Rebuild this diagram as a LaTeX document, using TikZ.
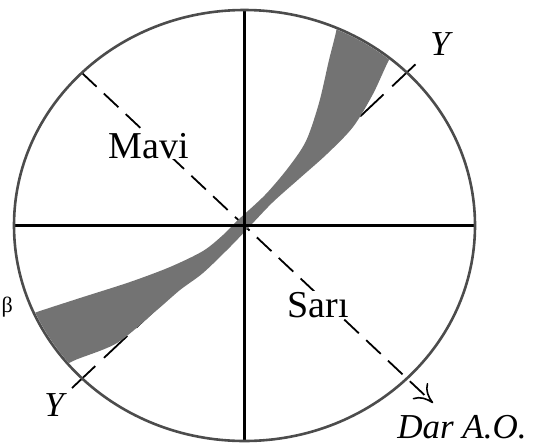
\documentclass[tikz,border=0pt]{standalone}
\usepackage{fontspec}
\setmainfont{Liberation Serif}
\usetikzlibrary{arrows.meta}
\begin{document}
\begin{tikzpicture}[x=1pt,y=-1pt,
  rim/.style={draw=black!70, line width=2.6pt},
  axis/.style={draw=black, line width=2.6pt},
  dline/.style={line width=1.8pt, dash pattern=on 20pt off 10pt},
  yline/.style={line width=1.8pt, dash pattern=on 32pt off 12pt},
  lbl/.style={font=\fontsize{38}{40}\selectfont, fill=white, inner sep=1pt, anchor=base},
  ilbl/.style={font=\fontsize{35}{40}\selectfont\itshape, inner sep=1pt, anchor=base},
  band/.style={fill=black!55}]
\useasboundingbox (0,0) rectangle (534,447);
\coordinate (O) at (244.5,225.5);
\coordinate (L) at (14,225.5);
\coordinate (R) at (475,225.5);
\coordinate (T) at (244.5,10);
\coordinate (B) at (244.5,441);
\coordinate (Y1) at (72,388);
\coordinate (Y2) at (419,61);
\coordinate (M1) at (82,73);
\coordinate (S2) at (433,403);
% dashed lines
\draw[yline] (Y1) -- (Y2);
\draw[dline, -{Computer Modern Rightarrow[length=18pt,width=22pt,line width=1.6pt]}] (M1) -- (S2);
% shaded band
\begin{scope}
  \clip (O) ellipse [x radius=229pt, y radius=214pt];
  \fill[band] plot[smooth] coordinates {(22,318) (37,312) (80,298) (130,282) (170,267) (203,251) (223,235) (238,220) (265,195) (288,168) (306,141) (319,103) (329,60) (336,32) (338,15)}
    -- plot[smooth] coordinates {(405,38) (390,58) (373,94) (353,127) (327,154) (300,178) (273,202) (251,225) (230,247) (203,273) (180,290) (157,310) (117,343) (73,361) (55,373)} -- cycle;
\end{scope}
% axes and rim
\draw[axis] (L) -- (R);
\draw[axis] (T) -- (B);
\draw[rim] (O) ellipse [x radius=230.5pt, y radius=215.5pt];
% labels
\node[lbl] (mavi) at (149,158) {Mavi};
\node[lbl] (sari) at (318,317) {Sarı};
\node[ilbl] (ytop) at (440,55) {Y};
\node[ilbl] (ybot) at (54,416) {Y};
\node[ilbl] (dar) at (462,438) {Dar A.O.};
\node[font=\fontsize{22}{24}\selectfont, anchor=base east, inner sep=0pt] (frag) at (13,312) {β};
\end{tikzpicture}
\end{document}
